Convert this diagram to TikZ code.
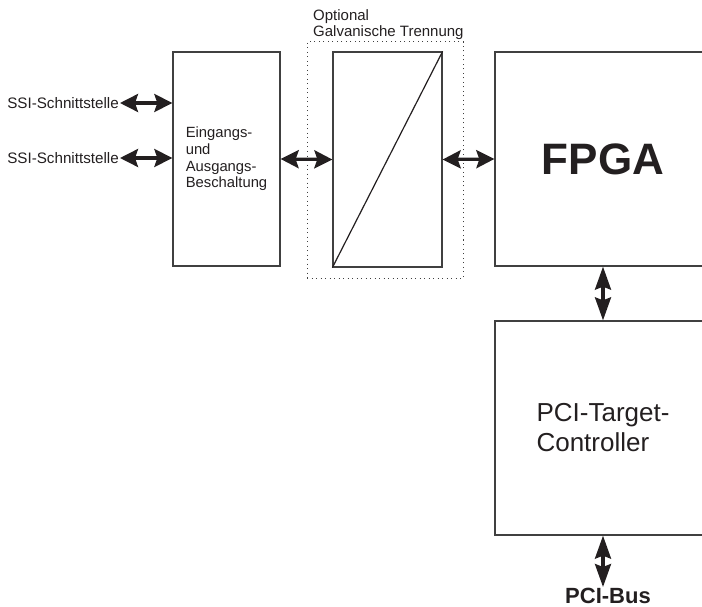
\documentclass[tikz,border=0pt]{standalone}
\usepackage{fontspec}
\setmainfont{Liberation Sans}
\usetikzlibrary{arrows.meta}
\definecolor{boxgray}{HTML}{404040}
\definecolor{ink}{HTML}{231F20}
\begin{document}
\begin{tikzpicture}[x=1pt,y=-1pt,
  box/.style={draw=boxgray, line width=1.3pt, rectangle, inner sep=0pt, text=ink},
  dotbox/.style={draw=boxgray, line width=1pt, dash pattern=on 1pt off 3.5pt, rectangle, inner sep=0pt},
  dbl/.style={{Stealth[length=18pt,width=18pt,inset=3pt]}-{Stealth[length=18pt,width=18pt,inset=3pt]}, line width=3.2pt, draw=ink},
  vdbl/.style={{Stealth[length=23pt,width=16pt,inset=3pt]}-{Stealth[length=23pt,width=16pt,inset=3pt]}, line width=3.2pt, draw=ink},
  small/.style={font=\fontsize{15.2}{16.7}\selectfont, text=ink}]
\useasboundingbox (0,0) rectangle (702,607);
\clip (0,0) rectangle (702,607);

% boxes
\node[box, minimum width=107pt, minimum height=214pt, font=\fontsize{14.8}{16.7}\selectfont, align=left] (ein) at (226.5,159)
  {Eingangs-\\und\\Ausgangs-\\Beschaltung};
\node[box, minimum width=109pt, minimum height=215pt] (galv) at (387.5,159.5) {};
\draw[line width=1.2pt, draw=ink] (galv.south west) -- (galv.north east);
\node[dotbox, minimum width=156pt, minimum height=236pt] (iso) at (385,160) {};
\node[box, minimum width=216pt, minimum height=214pt, font=\bfseries\fontsize{44}{50}\selectfont] (fpga) at (603,159) {FPGA};
\node[box, minimum width=216pt, minimum height=214pt, font=\fontsize{26}{30}\selectfont, align=left] (pci) at (603,428) {PCI-Target-\\Controller};

% labels
\node[small, anchor=east, inner sep=1pt] (ssi1) at (120,103) {SSI-Schnittstelle};
\node[small, anchor=east, inner sep=1pt] (ssi2) at (120,158) {SSI-Schnittstelle};
\node[text=ink, anchor=west, inner sep=0pt, align=left, font=\fontsize{15}{16}\selectfont] (opt) at (313,24.4) {Optional\\Galvanische Trennung};
\node[font=\bfseries\fontsize{22}{26}\selectfont, text=ink, inner sep=1pt, anchor=north] (bus) at (608,587) {PCI-Bus};

% connectors
\draw[dbl] (ssi1.east) -- (ssi1.east -| ein.west);
\draw[dbl] (ssi2.east) -- (ssi2.east -| ein.west);
\draw[dbl] (ein.east) -- (galv.west);
\draw[dbl] (galv.east) -- (fpga.west);
\draw[vdbl] (fpga.south) -- (pci.north);
\draw[vdbl] (pci.south) -- (pci.south |- bus.north);
\end{tikzpicture}
\end{document}
